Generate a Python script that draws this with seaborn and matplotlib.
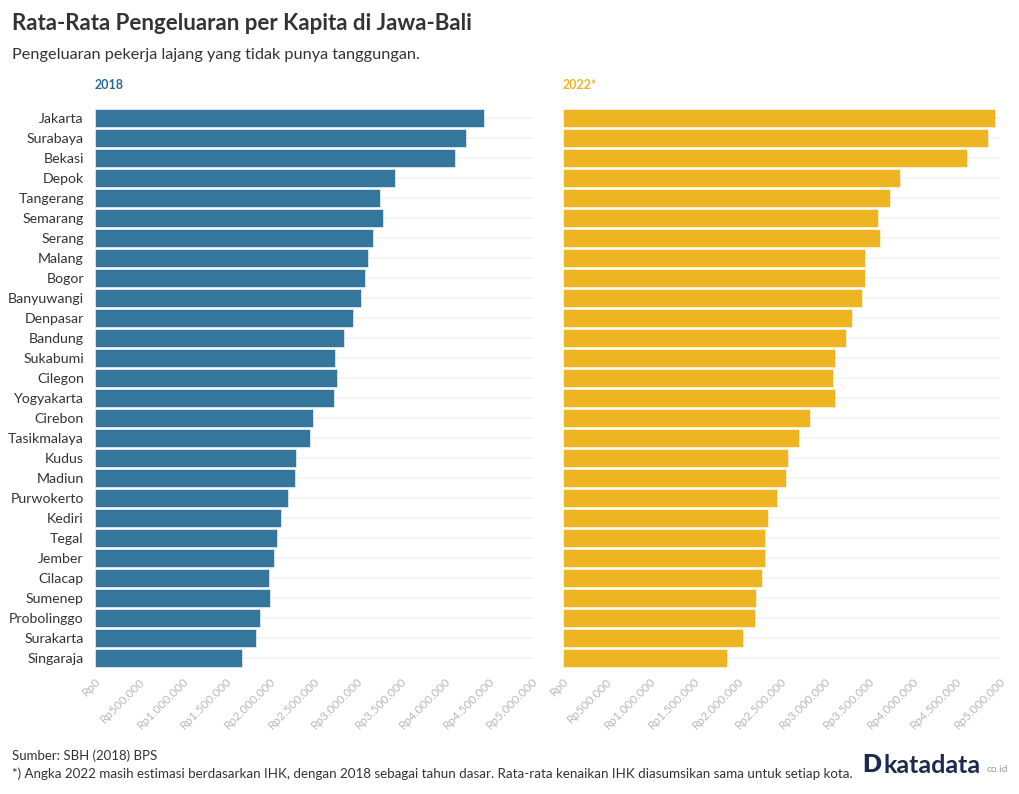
import pandas as pd
import seaborn as sns
import matplotlib.pyplot as plt
from matplotlib.ticker import FuncFormatter

cities = ["Jakarta", "Surabaya", "Bekasi", "Depok", "Tangerang", "Semarang", "Serang",
          "Malang", "Bogor", "Banyuwangi", "Denpasar", "Bandung", "Sukabumi", "Cilegon",
          "Yogyakarta", "Cirebon", "Tasikmalaya", "Kudus", "Madiun", "Purwokerto", "Kediri",
          "Tegal", "Jember", "Cilacap", "Sumenep", "Probolinggo", "Surakarta", "Singaraja"]
val_2018 = [4448000, 4245000, 4120000, 3427000, 3259000, 3290000, 3182000,
            3121000, 3083000, 3038000, 2950000, 2847000, 2744000, 2767000,
            2733000, 2489000, 2462000, 2295000, 2290000, 2203000, 2127000,
            2077000, 2043000, 1986000, 1997000, 1887000, 1841000, 1684000]
val_2022 = [4950000, 4863000, 4630000, 3863000, 3742000, 3605000, 3628000,
            3456000, 3460000, 3422000, 3310000, 3240000, 3117000, 3094000,
            3117000, 2827000, 2705000, 2583000, 2560000, 2457000, 2350000,
            2312000, 2312000, 2282000, 2217000, 2198000, 2068000, 1885000]
x_ticks = list(range(0, 5000001, 500000))

sns.set_theme(style="white")
plt.rcParams["font.family"] = ["Lato", "DejaVu Sans"]

df = pd.DataFrame({"kota": cities, "2018": val_2018, "2022": val_2022})

fig = plt.figure(figsize=(10.2, 7.94), dpi=100)
ax1 = fig.add_axes([0.0931, 0.1593, 0.4287, 0.7053])
ax2 = fig.add_axes([0.5515, 0.1593, 0.4287, 0.7053])

rp = FuncFormatter(lambda v, p: "Rp" + f"{int(v):,}".replace(",", "."))

panels = [(ax1, "2018", "#35769d", "2018"), (ax2, "2022", "#eeb422", "2022*")]
for ax, col, color, label in panels:
    for i in range(len(cities)):
        ax.axhline(i, color="#f2f2f2", lw=1.2, zorder=0)
    sns.barplot(data=df, x=col, y="kota", orient="h", color=color, saturation=1,
                width=0.9, edgecolor="white", linewidth=0.4, ax=ax, zorder=2)
    ax.set_xlim(0, 5000000)
    ax.set_ylim(len(cities) - 0.5, -0.5)
    ax.set_xticks(x_ticks)
    ax.xaxis.set_major_formatter(rp)
    ax.tick_params(axis="x", labelsize=8.5, labelcolor="#b8b8b8", rotation=45,
                   length=4, color="#eeeeee", pad=2)
    for t in ax.get_xticklabels():
        t.set_ha("right")
        t.set_rotation_mode("anchor")
    ax.set_xlabel("")
    ax.set_ylabel("")
    for s in ax.spines.values():
        s.set_visible(False)
    ax.text(0, 1.04, label, transform=ax.transAxes, fontsize=9, fontweight="bold",
            color=color if col == "2022" else "#2a6a94", ha="left", va="center")

ax1.tick_params(axis="y", labelsize=10.2, labelcolor="#333333", length=0, pad=8)
ax2.set_yticklabels([])
ax2.tick_params(axis="y", length=0)

fig.text(0.012, 0.970, "Rata-Rata Pengeluaran per Kapita di Jawa-Bali", fontsize=16,
         fontweight="bold", color="#333333", va="center")
fig.text(0.012, 0.931, "Pengeluaran pekerja lajang yang tidak punya tanggungan.",
         fontsize=11.7, color="#333333", va="center")
fig.text(0.012, 0.048, "Sumber: SBH (2018) BPS", fontsize=9.5, color="#333333", va="center")
fig.text(0.012, 0.026, "*) Angka 2022 masih estimasi berdasarkan IHK, dengan 2018 sebagai "
         "tahun dasar. Rata-rata kenaikan IHK diasumsikan sama untuk setiap kota.",
         fontsize=9.6, color="#333333", va="center")

fig.text(0.845, 0.036, "D", fontsize=18, fontweight="heavy", color="#1c2b4b", va="center")
fig.text(0.866, 0.036, "katadata", fontsize=18, fontweight="bold", color="#1c2b4b", va="center")
fig.text(0.967, 0.031, "co.id", fontsize=7.5, color="#9a9a9a", va="center")

fig.savefig("out.png", dpi=100, facecolor="white")
